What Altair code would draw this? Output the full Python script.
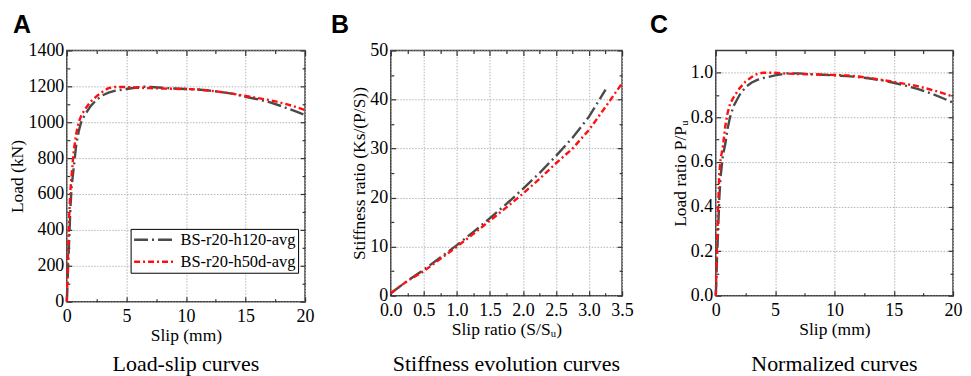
import altair as alt
import pandas as pd

SERIES = ["BS-r20-h120-avg", "BS-r20-h50d-avg"]
LINE_COLORS = ["#4a4a4a", "#ff1010"]
LINE_DASHES = [[14, 4, 2, 4], [6, 3, 2, 3]]

# ---- Panel A: load-slip ----
A_slip_h120 = [0, 0.05, 0.1, 0.2, 0.3, 0.4, 0.5, 0.6, 0.8, 1.0, 1.2, 1.5, 2.0, 2.5, 3.0, 3.5, 4.0, 5.0,
               6.0, 6.5, 7, 8, 9, 10, 11, 12, 13, 14, 15, 16, 17, 18, 19, 20]
A_load_h120 = [0, 80, 180, 350, 520, 640, 700, 760, 880, 950, 1000, 1040, 1090, 1125, 1150, 1165, 1175, 1185,
               1195, 1198, 1196, 1192, 1188, 1185, 1182, 1176, 1168, 1158, 1142, 1128, 1112, 1090, 1066, 1040]
A_slip_h50d = [0, 0.05, 0.1, 0.2, 0.3, 0.4, 0.5, 0.6, 0.8, 1.0, 1.2, 1.5, 2.0, 2.5, 3.0, 3.5, 4.0, 5.0,
               6, 7, 8, 9, 10, 11, 12, 13, 14, 15, 16, 17, 18, 19, 20]
A_load_h50d = [0, 120, 260, 480, 620, 700, 780, 850, 940, 1000, 1035, 1070, 1115, 1145, 1170, 1190, 1196, 1196,
               1192, 1190, 1188, 1186, 1185, 1182, 1176, 1168, 1158, 1146, 1135, 1124, 1108, 1090, 1068]

# ---- Panel B: stiffness evolution ----
B_ratio_h120 = [0, 0.25, 0.5, 0.75, 1.0, 1.25, 1.5, 1.75, 2.0, 2.25, 2.5, 2.75, 3.0, 3.25]
B_stiff_h120 = [0.5, 3.0, 5.3, 7.8, 10.3, 13.0, 15.8, 18.7, 21.8, 25.0, 28.5, 32.2, 36.5, 42.0]
B_ratio_h50d = [0, 0.25, 0.5, 0.75, 1.0, 1.25, 1.5, 1.75, 2.0, 2.25, 2.5, 2.75, 3.0, 3.25, 3.5]
B_stiff_h50d = [0.5, 3.0, 5.0, 7.5, 10.0, 12.6, 15.3, 18.0, 20.8, 23.8, 27.0, 30.0, 33.8, 38.5, 43.3]

# ---- Panel C: normalized ----
C_slip_h120 = [0, 0.05, 0.1, 0.2, 0.3, 0.4, 0.5, 0.6, 0.8, 1.0, 1.2, 1.5, 2.0, 2.5, 3.0, 3.5, 4.0, 5.0,
               6.0, 7, 8, 9, 10, 11, 12, 13, 14, 15, 16, 17, 18, 19, 20]
C_norm_h120 = [0, 0.07, 0.16, 0.30, 0.44, 0.53, 0.58, 0.63, 0.68, 0.75, 0.80, 0.85, 0.90, 0.935, 0.955, 0.968,
               0.976, 0.988, 0.997, 0.997, 0.994, 0.991, 0.988, 0.985, 0.981, 0.974, 0.966, 0.955, 0.942, 0.928,
               0.91, 0.889, 0.866]
C_slip_h50d = [0, 0.05, 0.1, 0.2, 0.3, 0.4, 0.5, 0.6, 0.8, 1.0, 1.2, 1.5, 2.0, 2.5, 3.0, 3.5, 4.0, 5.0,
               6, 7, 8, 9, 10, 11, 12, 13, 14, 15, 16, 17, 18, 19, 20]
C_norm_h50d = [0, 0.10, 0.22, 0.40, 0.55, 0.61, 0.64, 0.67, 0.76, 0.82, 0.86, 0.89, 0.93, 0.96, 0.98, 0.995,
               1.0, 1.0, 0.996, 0.994, 0.993, 0.991, 0.99, 0.988, 0.983, 0.976, 0.968, 0.959, 0.95, 0.94,
               0.926, 0.911, 0.893]

# ticks
A_xmaj = [0, 5, 10, 15, 20]
A_xmin = [2.5, 7.5, 12.5, 17.5]
A_ymaj = [0, 200, 400, 600, 800, 1000, 1200, 1400]
A_ymin = [100, 300, 500, 700, 900, 1100, 1300]
B_xmaj = [0, 0.5, 1.0, 1.5, 2.0, 2.5, 3.0, 3.5]
B_xmin = [0.25, 0.75, 1.25, 1.75, 2.25, 2.75, 3.25]
B_ymaj = [0, 10, 20, 30, 40, 50]
B_ymin = [5, 15, 25, 35, 45]
C_xmaj = [0, 5, 10, 15, 20]
C_xmin = [2.5, 7.5, 12.5, 17.5]
C_ymaj = [0, 0.2, 0.4, 0.6, 0.8, 1.0]
C_ymin = [0.1, 0.3, 0.5, 0.7, 0.9]

SERIF = "Liberation Serif"
SANS = "Liberation Sans"


def make_df(xs1, ys1, xs2, ys2):
    rows = []
    for s, xs, ys in ((SERIES[0], xs1, ys1), (SERIES[1], xs2, ys2)):
        for i, (x, y) in enumerate(zip(xs, ys)):
            rows.append({"series": s, "x": x, "y": y, "i": i})
    return pd.DataFrame(rows)


def ax(orient, values, size, labels=False, grid=False, title=None, fmt=None):
    lp = 6 if orient == "bottom" else 3
    kw = dict(orient=orient, values=values, offset=-size, tickSize=size, domain=False,
              labels=labels, grid=grid, title=title, tickColor="#333333", tickWidth=1.2,
              labelOverlap=False, labelFlush=False, labelPadding=lp, titlePadding=1,
              labelFont=SERIF, labelFontSize=18, labelColor="black",
              titleFont=SERIF, titleFontSize=17.5, titleFontWeight="normal", titleColor="black")
    if grid:
        kw.update(gridColor="#b5b5b5", gridDash=[1.5, 1.5], gridWidth=1)
    if fmt:
        kw["format"] = fmt
    return alt.Axis(**kw)


def panel(df, xdom, ydom, xmaj, xmin, ymaj, ymin, xfmt, yfmt, xtitle, ytitle,
          w, h, letter, letter_dx, caption, cap_dy, legx, legy):
    xs = alt.Scale(domain=xdom, nice=False, zero=False)
    ys = alt.Scale(domain=ydom, nice=False, zero=False)
    legend = alt.Legend(title=None, orient="none", legendX=legx, legendY=legy,
                        symbolType="M-1,0H4.2", symbolSize=225, symbolStrokeWidth=2.5,
                        labelFont=SERIF, labelFontSize=16.5, labelColor="black",
                        strokeColor="black", fillColor="white", padding=2,
                        rowPadding=4, labelOffset=30, cornerRadius=0)
    main = alt.Chart(df).mark_line(strokeWidth=2.4).encode(
        x=alt.X("x:Q", scale=xs, axis=ax("bottom", xmaj, 5, labels=True, grid=True, title=xtitle, fmt=xfmt)),
        y=alt.Y("y:Q", scale=ys, axis=ax("left", ymaj, 5, labels=True, grid=True, title=ytitle, fmt=yfmt)),
        color=alt.Color("series:N", scale=alt.Scale(domain=SERIES, range=LINE_COLORS), legend=legend),
        strokeDash=alt.StrokeDash("series:N", scale=alt.Scale(domain=SERIES, range=LINE_DASHES), legend=legend),
        order="i:Q",
    )
    ghost = alt.Chart(df).mark_point(opacity=0, size=1)
    l2 = ghost.encode(x=alt.X("x:Q", scale=xs, axis=ax("bottom", xmin, 3)),
                      y=alt.Y("y:Q", scale=ys, axis=ax("left", ymin, 3)))
    l3 = ghost.encode(x=alt.X("x:Q", scale=xs, axis=ax("top", xmaj, 5)),
                      y=alt.Y("y:Q", scale=ys, axis=ax("right", ymaj, 5)))
    l4 = ghost.encode(x=alt.X("x:Q", scale=xs, axis=ax("top", xmin, 3)),
                      y=alt.Y("y:Q", scale=ys, axis=ax("right", ymin, 3)))
    cap = alt.Chart(pd.DataFrame({"t": [caption]})).mark_text(
        font=SERIF, fontSize=22, baseline="middle", align="center", color="black"
    ).encode(text="t:N", x=alt.value(w / 2), y=alt.value(h + cap_dy))
    let = alt.Chart(pd.DataFrame({"t": [letter]})).mark_text(
        font=SANS, fontSize=25, fontWeight="bold", baseline="alphabetic", align="left", color="black"
    ).encode(text="t:N", x=alt.value(letter_dx), y=alt.value(-17))
    return alt.layer(main, l2, l3, l4, cap, let).resolve_axis(
        x="independent", y="independent"
    ).properties(width=w, height=h)


pA = panel(make_df(A_slip_h120, A_load_h120, A_slip_h50d, A_load_h50d),
           [0, 20], [0, 1400], A_xmaj, A_xmin, A_ymaj, A_ymin, "d", "d",
           "Slip (mm)", "Load (kN)", 239, 252, "A", -54, "Load-slip curves", 63, 64, 179)
pB = panel(make_df(B_ratio_h120, B_stiff_h120, B_ratio_h50d, B_stiff_h50d),
           [0, 3.5], [0, 50], B_xmaj, B_xmin, B_ymaj, B_ymin, ".1f", "d",
           "Slip ratio (S/Sᵤ)", "Stiffness ratio (Ks/(P/S))", 232, 246, "B", -60,
           "Stiffness evolution curves", 69, 16, 25)
pC = panel(make_df(C_slip_h120, C_norm_h120, C_slip_h50d, C_norm_h50d),
           [0, 20], [0, 1.1], C_xmaj, C_xmin, C_ymaj, C_ymin, "d", ".1f",
           "Slip (mm)", "Load ratio P/Pᵤ", 238, 246, "C", -66, "Normalized curves", 69, 59, 173)

chart = alt.hconcat(pA, pB, pC, spacing=15, bounds="full").properties(
    padding={"left": 0, "top": 4, "right": 0, "bottom": 0}
).configure_view(
    stroke="#3a3a3a", strokeWidth=1.5
)

chart.save("out.html", embed_options={"renderer": "svg", "actions": False})
